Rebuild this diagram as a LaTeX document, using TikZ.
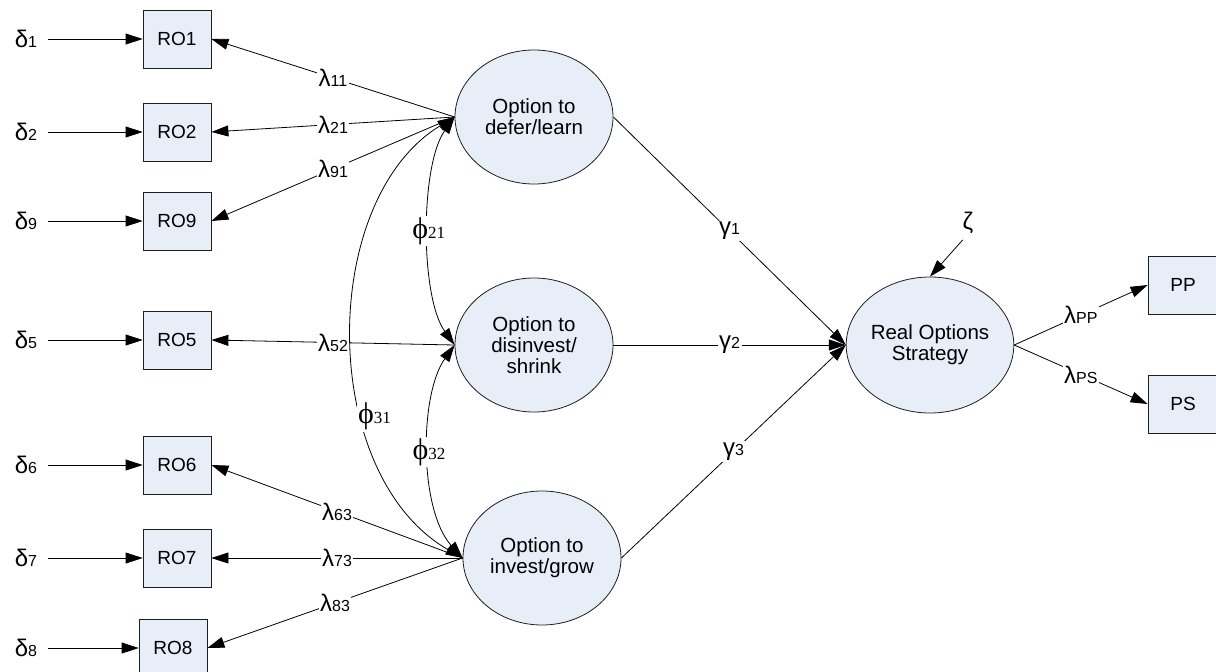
\documentclass[tikz,border=0pt]{standalone}
\usepackage{fontspec}
\setmainfont{Liberation Sans}
\newfontfamily\serifgr{Liberation Serif}
\usetikzlibrary{arrows.meta,shapes.geometric}

\definecolor{nodefill}{RGB}{232,238,248}
\definecolor{edgecol}{RGB}{30,30,30}

% Greek symbol followed by a smaller index on the same baseline
\newcommand{\grk}[2]{{\fontsize{24}{24}\selectfont #1}{\fontsize{16}{16}\selectfont #2}}
% Correlation label: serif phi with serif index
\newcommand{\phis}[1]{{\serifgr\fontsize{30}{30}\selectfont ϕ}{\serifgr\fontsize{17}{17}\selectfont #1}}

\tikzset{
  obsbox/.style={draw=edgecol, fill=nodefill, line width=0.8pt,
    minimum width=68pt, minimum height=58pt, inner sep=0pt,
    font=\fontsize{19}{20}\selectfont},
  latent/.style={ellipse, draw=edgecol, fill=nodefill, line width=0.8pt,
    minimum width=158pt, minimum height=134pt, inner sep=0pt, align=center,
    font=\fontsize{20.5}{21}\selectfont},
  errlbl/.style={inner sep=0pt},
  pathlbl/.style={fill=white, inner sep=1.5pt},
  conn/.style={draw=black, line width=0.8pt, -{Triangle[length=17pt,width=11pt]}},
  biconn/.style={draw=black, line width=0.8pt,
    {Triangle[length=17pt,width=11pt]}-{Triangle[length=17pt,width=11pt]}},
}

\begin{document}
\begin{tikzpicture}[x=1pt,y=-1pt]
\useasboundingbox (0,0) rectangle (1216,672);

% indicator boxes
\node[obsbox] (ro1) at (177,39)  {RO1};
\node[obsbox] (ro2) at (177,132) {RO2};
\node[obsbox] (ro9) at (177,221) {RO9};
\node[obsbox] (ro5) at (177,340) {RO5};
\node[obsbox] (ro6) at (177,465) {RO6};
\node[obsbox] (ro7) at (177,558) {RO7};
\node[obsbox] (ro8) at (173,648) {RO8};
\node[obsbox, minimum width=70pt] (pp) at (1183,285) {PP};
\node[obsbox, minimum width=70pt] (ps) at (1183,404) {PS};

% error terms
\node[errlbl] (d1) at (26,39)  {\grk{δ}{1}};
\node[errlbl] (d2) at (26,132) {\grk{δ}{2}};
\node[errlbl] (d9) at (26,221) {\grk{δ}{9}};
\node[errlbl] (d5) at (26,340) {\grk{δ}{5}};
\node[errlbl] (d6) at (26,465) {\grk{δ}{6}};
\node[errlbl] (d7) at (26,558) {\grk{δ}{7}};
\node[errlbl] (d8) at (26,648) {\grk{δ}{8}};
\node[errlbl] (zeta) at (968,223) {\fontsize{24}{24}\selectfont ζ};

% latent constructs
\node[latent] (e1) at (534,117) {Option to\\defer/learn};
\node[latent] (e2) at (534,345) {Option to\\disinvest/\\shrink};
\node[latent] (e3) at (542,558) {Option to\\invest/grow};
\node[latent, minimum width=160pt, minimum height=136pt] (rs) at (930,345) {Real Options\\Strategy};

% error arrows
\foreach \d/\r in {d1/ro1,d2/ro2,d9/ro9,d5/ro5,d6/ro6,d7/ro7,d8/ro8}
  \draw[conn, shorten <=11pt] (\d.east) -- (\r.west);
\draw[conn, shorten <=8pt] (zeta.south) -- (rs.north);

% correlations between constructs
\draw[biconn] (e1.west) .. controls (420,165) and (420,297) .. (e2.west)
  node[pathlbl, pos=0.5] {\phis{21}};
\draw[biconn] (e2.west) .. controls (419,395) and (419,510) .. (e3.west)
  node[pathlbl, pos=0.5] {\phis{32}};
\draw[biconn] (e1.west) .. controls (318,200) and (318,475) .. (e3.west)
  node[pathlbl, pos=0.65, xshift=11pt] {\phis{31}};

% loadings
\draw[conn] (e1.west) -- node[pathlbl] {\grk{λ}{11}} (ro1.east);
\draw[conn] (e1.west) -- node[pathlbl] {\grk{λ}{21}} (ro2.east);
\draw[conn] (e1.west) -- node[pathlbl] {\grk{λ}{91}} (ro9.east);
\draw[conn] (e2.west) -- node[pathlbl] {\grk{λ}{52}} (ro5.east);
\draw[conn] (e3.west) -- node[pathlbl] {\grk{λ}{63}} (ro6.east);
\draw[conn] (e3.west) -- node[pathlbl] {\grk{λ}{73}} (ro7.east);
\draw[conn] (e3.west) -- node[pathlbl] {\grk{λ}{83}} (ro8.east);

% structural paths
\draw[conn] (e1.east) -- node[pathlbl] {\grk{γ}{1}} (rs.west);
\draw[conn] (e2.east) -- node[pathlbl] {\grk{γ}{2}} (rs.west);
\draw[conn] (e3.east) -- node[pathlbl] {\grk{γ}{3}} (rs.west);

% outcome indicators
\draw[conn] (rs.east) -- node[pathlbl] {\grk{λ}{PP}} (pp.west);
\draw[conn] (rs.east) -- node[pathlbl] {\grk{λ}{PS}} (ps.west);
\end{tikzpicture}
\end{document}
